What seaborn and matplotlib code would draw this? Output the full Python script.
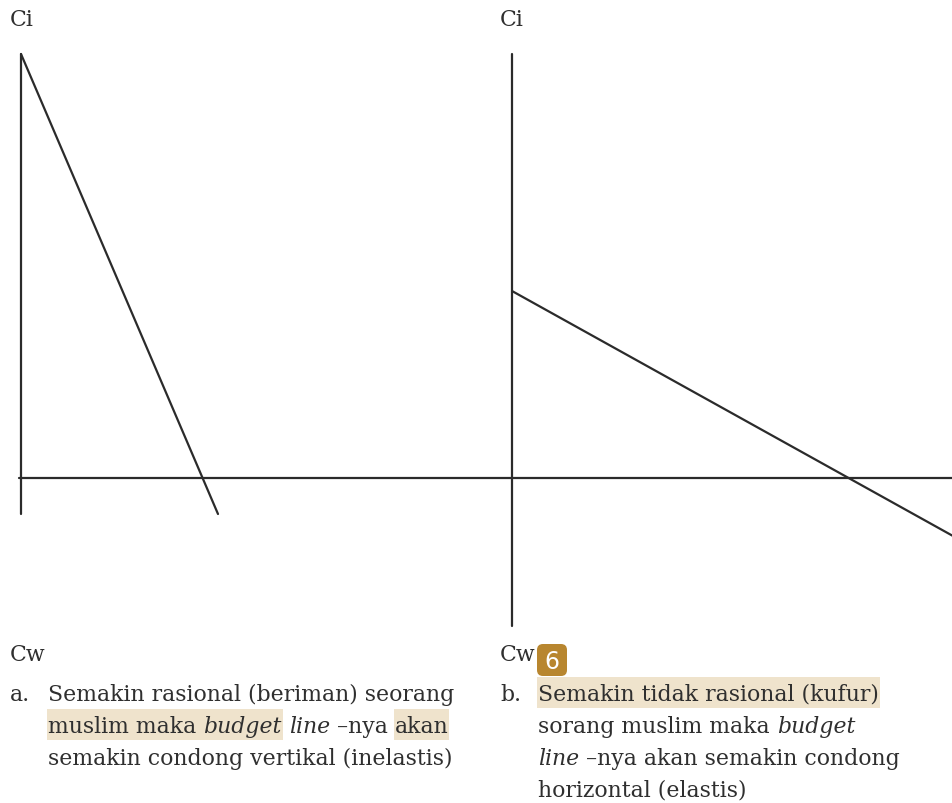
import matplotlib
matplotlib.use("Agg")
import matplotlib.pyplot as plt
from matplotlib.patches import Rectangle, FancyBboxPatch
import seaborn as sns
import pandas as pd

# Line segments, in picture coordinates (x right, y down)
axes_x = [[21, 21], [19, 953], [512, 512]]
axes_y = [[55, 515], [479, 479], [55, 627]]
budget_x = [[21, 218], [512, 953]]
budget_y = [[55, 515], [292, 537]]

axis_labels = ["Ci", "Ci", "Cw", "Cw"]
label_x = [10, 500, 10, 500]
label_y = [20, 20, 655, 655]

# caption pieces: (text, italic, highlighted)
caption_a = [
    [("Semakin rasional (beriman) seorang", False, False)],
    [("muslim maka ", False, True), ("budget", True, True), (" ", False, False),
     ("line", True, False), (" \u2013nya ", False, False), ("akan", False, True)],
    [("semakin condong vertikal (inelastis)", False, False)],
]
caption_b = [
    [("Semakin tidak rasional (kufur)", False, True)],
    [("sorang muslim maka ", False, False), ("budget", True, False)],
    [("line", True, False), (" \u2013nya akan semakin condong", False, False)],
    [("horizontal (elastis)", False, False)],
]

sns.set_style("white")
plt.rcParams['font.family'] = ['DejaVu Serif']

fig = plt.figure(figsize=(9.53, 8.04), dpi=100)
ax = fig.add_axes([0, 0, 1, 1])
ax.set_xlim(0, 953)
ax.set_ylim(804, 0)
ax.axis("off")

line_color = "#2b2b2b"
for xs, ys in zip(axes_x + budget_x, axes_y + budget_y):
    seg = pd.DataFrame({"x": xs, "y": ys})
    sns.lineplot(data=seg, x="x", y="y", sort=False, estimator=None, errorbar=None,
                 color=line_color, lw=1.6, ax=ax)

text_color = "#2f2f2f"
fs = 15.8
for t, x, y in zip(axis_labels, label_x, label_y):
    ax.text(x, y, t, fontsize=fs, color=text_color, ha="left", va="center")

renderer = fig.canvas.get_renderer()
hl_color = "#efe3cc"


def draw_line(pieces, x0, y):
    x = x0
    for txt, ital, hl in pieces:
        t = ax.text(x, y, txt, fontsize=fs, color=text_color, ha="left", va="baseline",
                    style="italic" if ital else "normal", zorder=3)
        bb = t.get_window_extent(renderer)
        x1 = ax.transData.inverted().transform((bb.x1, bb.y0))[0]
        if hl:
            ax.add_patch(Rectangle((x - 1, y - 23), x1 - x + 2, 31, color=hl_color, zorder=1, lw=0))
        x = x1


base_y = [701, 733, 765, 797]
ax.text(10, base_y[0], "a.", fontsize=fs, color=text_color, va="baseline")
for i, pieces in enumerate(caption_a):
    draw_line(pieces, 48, base_y[i])
ax.text(500, base_y[0], "b.", fontsize=fs, color=text_color, va="baseline")
for i, pieces in enumerate(caption_b):
    draw_line(pieces, 538, base_y[i])

# page badge
ax.add_patch(FancyBboxPatch((537, 645), 30, 32, boxstyle="round,pad=0,rounding_size=6",
                            color="#b8862f", lw=0, zorder=4))
ax.text(552, 662, "6", fontsize=17, color="white", ha="center", va="center",
        family="DejaVu Sans", zorder=5)

fig.savefig("out.png", dpi=100)
